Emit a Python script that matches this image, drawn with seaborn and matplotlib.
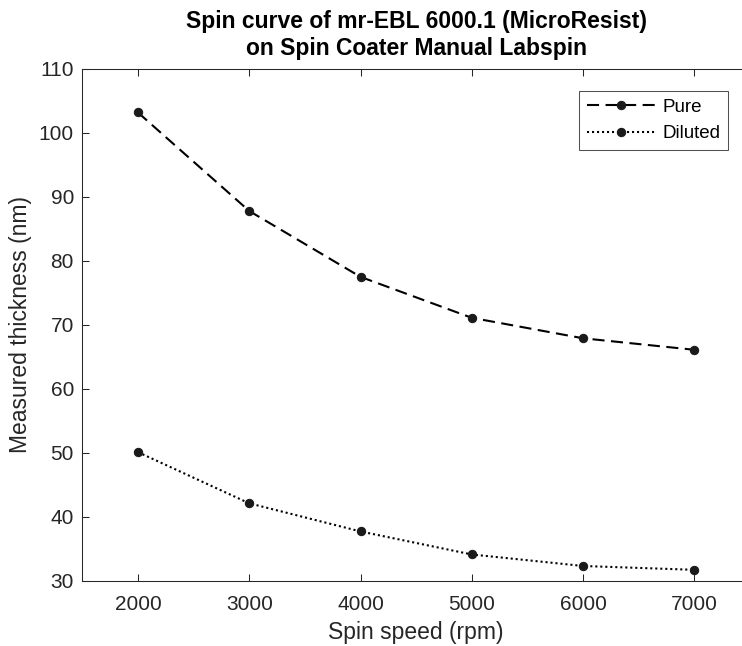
import matplotlib
matplotlib.use("Agg")
import matplotlib.pyplot as plt
import pandas as pd
import seaborn as sns

speeds = [2000, 3000, 4000, 5000, 6000, 7000]
pure = [103.2, 87.8, 77.5, 71.1, 67.9, 66.1]
diluted = [50.1, 42.1, 37.7, 34.1, 32.3, 31.7]
series_names = ["Pure", "Diluted"]

df = pd.DataFrame({
    "speed": speeds * 2,
    "thickness": pure + diluted,
    "series": [series_names[0]] * len(speeds) + [series_names[1]] * len(speeds),
})

sns.set_style("ticks")
plt.rcParams["font.family"] = ["Liberation Sans", "DejaVu Sans"]
plt.rcParams["xtick.direction"] = "in"
plt.rcParams["ytick.direction"] = "in"

gray = "#262626"

fig = plt.figure(figsize=(7.42, 6.46), dpi=100)
# axes runs a little past the right edge of the figure, as in the reference
ax = fig.add_axes([82.3 / 742, 65.3 / 646, 667.7 / 742, 511.7 / 646])

sns.lineplot(
    data=df, x="speed", y="thickness", style="series",
    dashes={"Pure": (5.8, 3.1), "Diluted": (1, 1.4)},
    markers={"Pure": "o", "Diluted": "o"},
    color="black", markersize=6, markeredgecolor="#1a1a1a",
    markerfacecolor="#1a1a1a", linewidth=1.5, ax=ax, legend=True,
)

ax.set_xlim(1500, 7500)
ax.set_ylim(30, 110)
ax.set_xticks(speeds)
ax.set_yticks(range(30, 111, 10))
ax.tick_params(axis="both", labelsize=15, colors=gray, top=True, right=True,
               length=5, width=0.75)
ax.tick_params(axis="x", pad=10.5)
ax.tick_params(axis="y", pad=6)
for s in ax.spines.values():
    s.set_color(gray)
    s.set_linewidth(0.75)

ax.set_xlabel("Spin speed (rpm)", fontsize=16.5, color=gray, labelpad=5)
ax.set_ylabel("Measured thickness (nm)", fontsize=16.5, color=gray, labelpad=5)

# title centred over the axes box
fig.text((82.3 + 667.7 / 2) / 742, 1 - 10 / 646,
         "Spin curve of mr-EBL 6000.1 (MicroResist)\non Spin Coater Manual Labspin",
         ha="center", va="top", fontsize=16.5, fontweight="bold",
         linespacing=1.2, color="black")

handles, labels = ax.get_legend_handles_labels()
leg = ax.legend(handles, labels, loc="upper right",
                bbox_to_anchor=(728 / 742, 1 - 91 / 646),
                bbox_transform=fig.transFigure, borderaxespad=0,
                fontsize=13.5, frameon=True, fancybox=False,
                edgecolor=gray, handlelength=3.7, handletextpad=0.35,
                borderpad=0.4, labelspacing=0.5, numpoints=1)
leg.get_frame().set_linewidth(0.75)
for t in leg.get_texts():
    t.set_color("black")

fig.savefig("out.png", dpi=100)
